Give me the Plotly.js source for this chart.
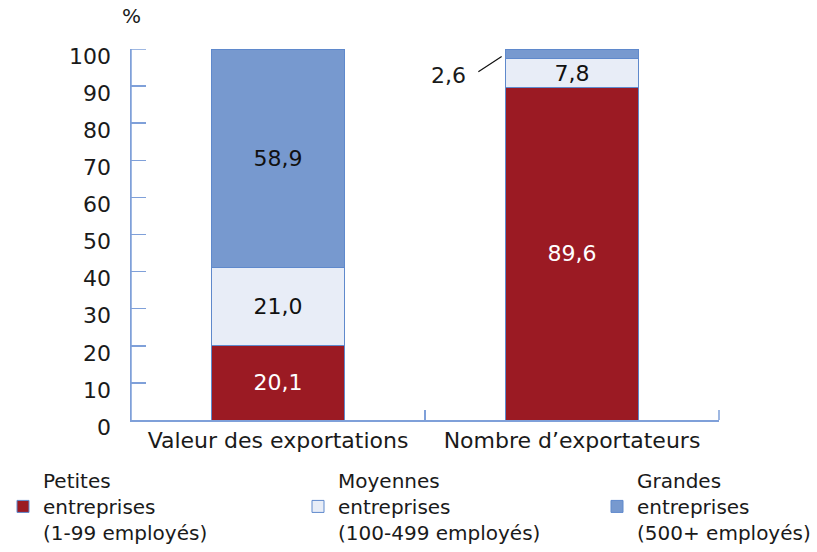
<!DOCTYPE html>
<html>
<head>
<meta charset="utf-8">
<script src="https://cdn.plot.ly/plotly-3.0.1.min.js"></script>
<style>html,body{margin:0;padding:0;background:#fff;}#chart{width:817px;height:552px;}</style>
</head>
<body>
<div id="chart"></div>
<script>
var categories = ["Valeur des exportations", "Nombre d\u2019exportateurs"];
var seriesNames = ["Petites<br>entreprises<br>(1-99 employés)", "Moyennes<br>entreprises<br>(100-499 employés)", "Grandes<br>entreprises<br>(500+ employés)"];
var petites = [20.1, 89.6];
var moyennes = [21.0, 7.8];
var grandes = [58.9, 2.6];
var yTicks = [0, 10, 20, 30, 40, 50, 60, 70, 80, 90, 100];

var FONT = "DejaVu Sans, sans-serif";
var fills = ["#9b1a23", "#e8edf7", "#7799cf"];
var borderCol = "#5f89cc";
var axisCol = "#7fa0d9";
var BARW = 0.45;

function fmt(v) { return v.toFixed(1).replace(".", ","); }

var series = [petites, moyennes, grandes];
var textColors = ["#ffffff", "#111111", "#111111"];
var legendIds = ["legend", "legend2", "legend3"];

var traces = series.map(function (vals, i) {
  return {
    type: "bar",
    name: seriesNames[i],
    legend: legendIds[i],
    x: categories,
    y: vals,
    width: BARW,
    marker: { color: fills[i], line: { color: borderCol, width: 1 } },
    text: vals.map(function (v, j) { return (i === 2 && j === 1) ? "" : fmt(v); }),
    textposition: "inside",
    insidetextanchor: "middle",
    textangle: 0,
    constraintext: "none",
    textfont: { family: FONT, size: 22, color: textColors[i] },
    hoverinfo: "skip"
  };
});

// small top segment of the second bar: label outside with a leader line
var topTotal = petites[1] + moyennes[1] + grandes[1];
var annY = topTotal - grandes[1] / 2;
var annX = 1 - BARW / 2;

function legendBox(xPx) {
  return {
    orientation: "v",
    xref: "container",
    yref: "container",
    x: xPx / 817,
    xanchor: "left",
    y: 0.165,
    yanchor: "top",
    font: { family: FONT, size: 20, color: "#1a1a1a" },
    bgcolor: "rgba(0,0,0,0)",
    itemclick: false,
    itemdoubleclick: false
  };
}

var layout = {
  width: 817,
  height: 552,
  margin: { l: 131, r: 98, t: 49, b: 132, autoexpand: false },
  paper_bgcolor: "#ffffff",
  plot_bgcolor: "#ffffff",
  barmode: "stack",
  showlegend: true,
  font: { family: FONT, size: 22, color: "#1a1a1a" },
  xaxis: {
    type: "category",
    range: [-0.5, 1.5],
    showline: true,
    linecolor: axisCol,
    linewidth: 1.5,
    ticks: "inside",
    tickson: "boundaries",
    ticklen: 10,
    tickwidth: 1.5,
    tickcolor: axisCol,
    tickangle: 0,
    automargin: false,
    showgrid: false,
    zeroline: false,
    tickfont: { family: FONT, size: 22, color: "#1a1a1a" },
    fixedrange: true
  },
  yaxis: {
    range: [0, 100],
    tickvals: yTicks,
    ticktext: yTicks.map(String),
    showline: true,
    linecolor: axisCol,
    linewidth: 1.5,
    ticks: "inside",
    ticklen: 15,
    tickwidth: 1.5,
    tickcolor: axisCol,
    automargin: false,
    showgrid: false,
    zeroline: false,
    ticklabelshift: 7,
    ticklabelstandoff: 14,
    tickfont: { family: FONT, size: 22, color: "#1a1a1a" },
    fixedrange: true
  },
  legend: legendBox(3),
  legend2: legendBox(298),
  legend3: legendBox(597),
  shapes: [
    { type: "line", xref: "paper", yref: "paper", x0: 0, x1: 0, y0: 0, y1: 1,
      line: { color: axisCol, width: 1.5 }, layer: "above" },
    { type: "line", xref: "paper", yref: "y", x0: 0, x1: 15 / 588, y0: yTicks[yTicks.length - 1], y1: yTicks[yTicks.length - 1],
      line: { color: axisCol, width: 1.5 }, layer: "above" },
    { type: "line", xref: "paper", yref: "paper", x0: 1, x1: 1, y0: 0, y1: 10 / 371,
      line: { color: axisCol, width: 1.5 }, layer: "above" }
  ],
  annotations: [
    {
      xref: "paper", yref: "paper", x: 0, y: 1,
      text: "%", showarrow: false, xanchor: "center", yanchor: "bottom", yshift: 19,
      font: { family: FONT, size: 20, color: "#1a1a1a" }
    },
    {
      xref: "x", yref: "y", x: annX, y: annY,
      text: "", showarrow: true, arrowhead: 0, arrowwidth: 1.2, arrowcolor: "#111111",
      ax: -29, ay: 19, standoff: 5
    },
    {
      xref: "x", yref: "y", x: annX, y: annY,
      text: fmt(grandes[1]), showarrow: false, xshift: -57, yshift: -22,
      font: { family: FONT, size: 22, color: "#1a1a1a" }
    }
  ]
};

Plotly.newPlot("chart", traces, layout, { displayModeBar: false, staticPlot: true });
</script>
</body>
</html>
